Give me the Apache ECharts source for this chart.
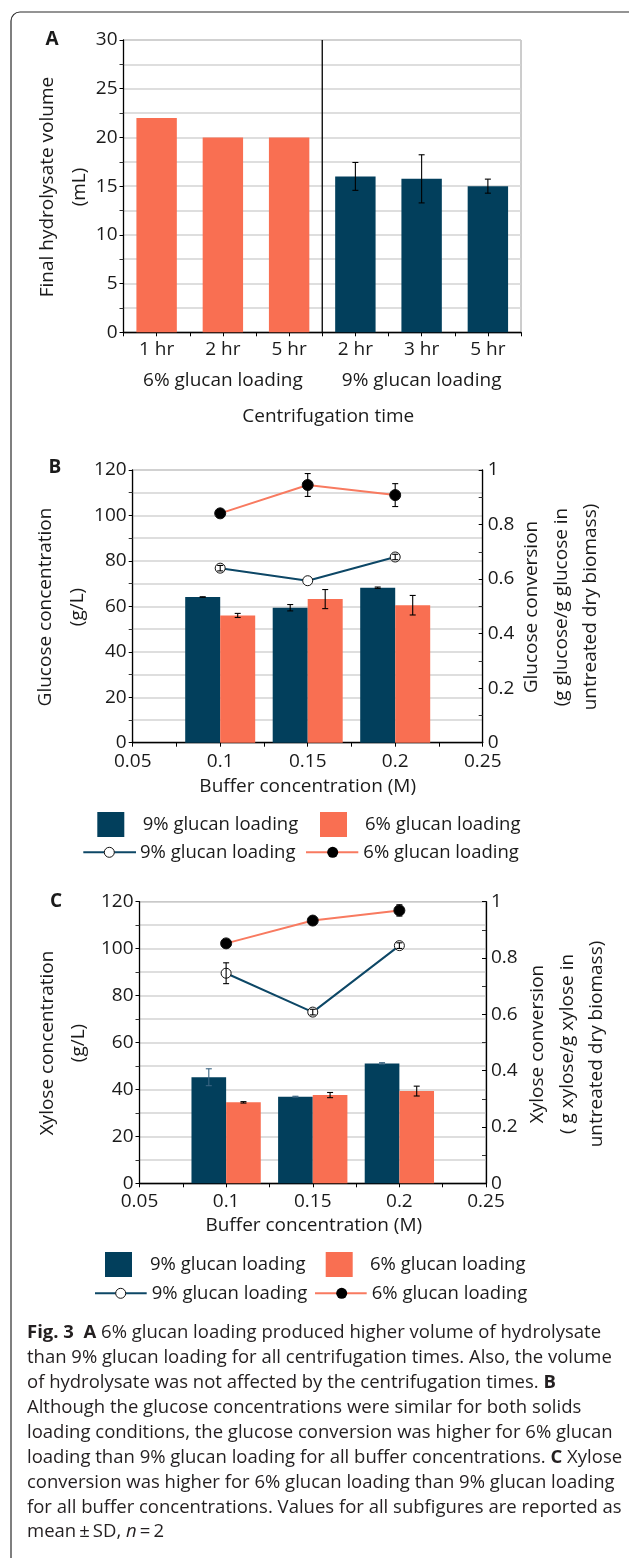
<!DOCTYPE html>
<html><head><meta charset="utf-8">
<script src="https://cdn.jsdelivr.net/npm/echarts@6/dist/echarts.min.js"></script>
<style>html,body{margin:0;padding:0;background:#fff}#c{width:629px;height:1558px}</style>
</head><body><div id="c"></div>
<script>
// ---------- DATA ----------
// Panel A
const centrifugeTimes = ['1 hr', '2 hr', '5 hr', '2 hr', '3 hr', '5 hr'];
const volume6 = [22, 20, 20];
const volume6Sd = [0, 0, 0];
const volume9 = [16, 15.75, 15];
const volume9Sd = [1.43, 2.47, 0.72];
const groupLabelsA = ['6% glucan loading', '9% glucan loading'];
// Panel B / C shared x
const bufferConc = [0.1, 0.15, 0.2];
const bufferTicks = ['0.05', '0.1', '0.15', '0.2', '0.25'];
// Panel B
const glucose9 = [64.1, 59.4, 68.2];
const glucose9Sd = [0.1, 1.4, 0.3];
const glucose6 = [56.0, 63.2, 60.5];
const glucose6Sd = [0.9, 4.2, 4.3];
const glcConv9 = [0.640, 0.594, 0.681];
const glcConv9Sd = [0.01, 0, 0.01];
const glcConv6 = [0.841, 0.945, 0.908];
const glcConv6Sd = [0, 0.042, 0.042];
// Panel C
const xylose9 = [45.2, 36.9, 51.1];
const xylose9Sd = [3.6, 0.2, 0.3];
const xylose6 = [34.5, 37.6, 39.3];
const xylose6Sd = [0.3, 1.1, 2.1];
const xylConv9 = [0.746, 0.608, 0.844];
const xylConv9Sd = [0.037, 0.01, 0.01];
const xylConv6 = [0.852, 0.933, 0.969];
const xylConv6Sd = [0, 0, 0.02];
// Text
const legendLabels = ['9% glucan loading', '6% glucan loading'];
const titlesA = { y: ['Final hydrolysate volume', '(mL)'], x: 'Centrifugation time' };
const titlesB = { y: ['Glucose concentration', '(g/L)'], y2: ['Glucose conversion', '(g glucose/g glucose in', 'untreated dry biomass)'], x: 'Buffer concentration (M)' };
const titlesC = { y: ['Xylose concentration', '(g/L)'], y2: ['Xylose conversion', '( g xylose/g xylose in', 'untreated dry biomass)'], x: 'Buffer concentration (M)' };
const captionLines = [
  '{b|Fig. 3}  {b|A} 6% glucan loading produced higher volume of hydrolysate',
  'than 9% glucan loading for all centrifugation times. Also, the volume',
  'of hydrolysate was not affected by the centrifugation times. {b|B}',
  'Although the glucose concentrations were similar for both solids',
  'loading conditions, the glucose conversion was higher for 6% glucan',
  'loading than 9% glucan loading for all buffer concentrations. {b|C} Xylose',
  'conversion was higher for 6% glucan loading than 9% glucan loading',
  'for all buffer concentrations. Values for all subfigures are reported as',
  'mean\u2009\u00b1\u2009SD, {i|n}\u2009=\u20092'
];

// ---------- STYLE / LAYOUT ----------
const FONT = 'Open Sans';
const TXT = '#1a1a1a';
const DARK = '#023F5C', ORANGE = '#F96F52';
const DARK_LINE = '#0D4766', ORANGE_LINE = '#F87A60';
const GRIDLINE = { color: '#d3d3d3', width: 1.5 };
const GA = { left: 123.5, top: 40, width: 397.5, height: 292.3 };
const GB = { left: 132.7, top: 470, width: 350, height: 272.7 };
const GC = { left: 139.5, top: 901.7, width: 346.5, height: 281.6 };
const X_MIN = 0.05, X_MAX = 0.25, X_INT = 0.05;
const BAR_SPAN = 0.02; // each bar spans 0.02 M on the x axis

const chart = echarts.init(document.getElementById('c'), null, { renderer: 'canvas', width: 629, height: 1558 });

const lbl = (extra) => Object.assign({ fontSize: 19, fontFamily: FONT, color: TXT }, extra || {});
const blackLine = { lineStyle: { color: '#000', width: 1.3 } };

function leftY(gridIndex, max, interval) {
  return {
    gridIndex, type: 'value', min: 0, max, interval, position: 'left',
    axisLine: Object.assign({ show: true }, blackLine),
    axisTick: { show: true, length: 4, lineStyle: { color: '#000' } },
    minorTick: { show: true, splitNumber: 2, length: 4, lineStyle: { color: '#333' } },
    splitLine: { show: true, lineStyle: GRIDLINE },
    minorSplitLine: { show: true, lineStyle: GRIDLINE },
    axisLabel: lbl({ margin: 6 })
  };
}
function rightY(gridIndex) {
  return {
    gridIndex, type: 'value', min: 0, max: 1, interval: 0.2, position: 'right',
    axisLine: Object.assign({ show: true }, blackLine),
    axisTick: { show: true, inside: true, length: 4, lineStyle: { color: '#000' } },
    minorTick: { show: true, splitNumber: 2, length: 4, lineStyle: { color: '#333' } },
    splitLine: { show: false },
    axisLabel: lbl({ margin: 5 })
  };
}
function bufferX(gridIndex) {
  return {
    gridIndex, type: 'value', min: X_MIN, max: X_MAX, interval: X_INT, position: 'bottom',
    axisLine: Object.assign({ show: true, onZero: false }, blackLine),
    axisTick: { show: true, length: 4, lineStyle: { color: '#000' } },
    minorTick: { show: true, splitNumber: 2, length: 4, lineStyle: { color: '#000' } },
    splitLine: { show: false },
    axisLabel: lbl({ margin: 9, formatter: (v) => bufferTicks[Math.round((v - X_MIN) / X_INT)] })
  };
}

function errRender(span, sign, color) {
  return function (params, api) {
    const x = api.value(0), lo = api.value(1), hi = api.value(2);
    if (hi - lo <= 0) return null;
    const off = span ? sign * api.size([span, 0])[0] / 2 : 0;
    const pHi = api.coord([x, hi]), pLo = api.coord([x, lo]);
    const cx = pHi[0] + off, cap = 3;
    const st = { stroke: color, lineWidth: 1.1 };
    return {
      type: 'group', children: [
        { type: 'line', shape: { x1: cx, y1: pHi[1], x2: cx, y2: pLo[1] }, style: st },
        { type: 'line', shape: { x1: cx - cap, y1: pHi[1], x2: cx + cap, y2: pHi[1] }, style: st },
        { type: 'line', shape: { x1: cx - cap, y1: pLo[1], x2: cx + cap, y2: pLo[1] }, style: st }
      ]
    };
  };
}
function errSeries(xi, yi, xs, vals, sds, span, sign, color) {
  return {
    type: 'custom', xAxisIndex: xi, yAxisIndex: yi, z: 10, silent: true,
    data: vals.map((v, i) => [xs[i], v - sds[i], v + sds[i]]),
    encode: { x: 0, y: [1, 2] },
    renderItem: errRender(span, sign, color)
  };
}
function barSeries(xi, yi, vals, color, width) {
  return {
    type: 'bar', xAxisIndex: xi, yAxisIndex: yi, barWidth: width, barGap: '0%',
    data: bufferConc.map((x, i) => [x, vals[i]]), itemStyle: { color }, silent: true
  };
}
function lineSeries(xi, yi, vals, lineColor, fill, size) {
  return {
    type: 'line', xAxisIndex: xi, yAxisIndex: yi, z: 5, silent: true,
    data: bufferConc.map((x, i) => [x, vals[i]]),
    symbol: 'circle', symbolSize: size, showSymbol: true,
    lineStyle: { color: lineColor, width: 2 },
    itemStyle: { color: fill, borderColor: '#111', borderWidth: 1 }
  };
}

const bwB = BAR_SPAN * GB.width / (X_MAX - X_MIN);
const bwC = BAR_SPAN * GC.width / (X_MAX - X_MIN);
const idxA = centrifugeTimes.map((_, i) => i);
const barDataA = volume6.map(v => ({ value: v, itemStyle: { color: ORANGE } }))
  .concat(volume9.map(v => ({ value: v, itemStyle: { color: DARK } })));
const errValsA = volume6.concat(volume9), errSdA = volume6Sd.concat(volume9Sd);

const gridBase = { containLabel: false, outerBoundsMode: 'none', show: true, borderColor: '#9a9a9a', borderWidth: 1, backgroundColor: 'transparent' };

chart.setOption({
  animation: false,
  grid: [Object.assign({}, gridBase, GA), Object.assign({}, gridBase, GB), Object.assign({}, gridBase, GC)],
  xAxis: [
    {
      gridIndex: 0, type: 'category', data: centrifugeTimes, position: 'bottom',
      axisLine: Object.assign({ show: true }, blackLine),
      axisTick: { show: true, length: 4, lineStyle: { color: '#000' } },
      axisLabel: lbl({ margin: 8, interval: 0 })
    },
    {
      gridIndex: 0, type: 'category', data: centrifugeTimes, position: 'bottom',
      axisLine: { show: false },
      axisTick: { show: true, alignWithLabel: true, length: 4, lineStyle: { color: '#000' } },
      axisLabel: { show: false }
    },
    bufferX(1),
    bufferX(2)
  ],
  yAxis: [
    leftY(0, 30, 5),
    leftY(1, 120, 20),
    rightY(1),
    leftY(2, 120, 20),
    rightY(2)
  ],
  series: [
    // Panel A
    { type: 'bar', xAxisIndex: 0, yAxisIndex: 0, data: barDataA, barCategoryGap: '39%', silent: true },
    errSeries(0, 0, idxA, errValsA, errSdA, 0, 0, '#000'),
    // Panel B
    barSeries(2, 1, glucose9, DARK, bwB),
    barSeries(2, 1, glucose6, ORANGE, bwB),
    errSeries(2, 1, bufferConc, glucose9, glucose9Sd, BAR_SPAN, -1, '#000'),
    errSeries(2, 1, bufferConc, glucose6, glucose6Sd, BAR_SPAN, 1, '#000'),
    lineSeries(2, 2, glcConv9, DARK_LINE, '#fff', 10),
    lineSeries(2, 2, glcConv6, ORANGE_LINE, '#000', 11),
    errSeries(2, 2, bufferConc, glcConv9, glcConv9Sd, 0, 0, '#000'),
    errSeries(2, 2, bufferConc, glcConv6, glcConv6Sd, 0, 0, '#000'),
    // Panel C
    barSeries(3, 3, xylose9, DARK, bwC),
    barSeries(3, 3, xylose6, ORANGE, bwC),
    errSeries(3, 3, bufferConc, xylose9, xylose9Sd, BAR_SPAN, -1, '#3a6482'),
    errSeries(3, 3, bufferConc, xylose6, xylose6Sd, BAR_SPAN, 1, '#000'),
    lineSeries(3, 4, xylConv9, DARK_LINE, '#fff', 10),
    lineSeries(3, 4, xylConv6, ORANGE_LINE, '#000', 11),
    errSeries(3, 4, bufferConc, xylConv9, xylConv9Sd, 0, 0, '#000'),
    errSeries(3, 4, bufferConc, xylConv6, xylConv6Sd, 0, 0, '#000')
  ]
});

// ---------- GRAPHICS (titles, legends, caption) ----------
const g = [];
function txt(x, y, text, opts) {
  g.push(Object.assign({
    type: 'text', x, y, silent: true, z: 20,
    style: Object.assign({ text, fontSize: 19, fontFamily: FONT, fill: TXT, align: 'center', verticalAlign: 'middle' }, (opts && opts.style) || {})
  }, opts && opts.rotation !== undefined ? { rotation: opts.rotation } : {}));
}
const UP = Math.PI / 2; // text reading bottom-to-top
// frame
g.push({ type: 'rect', silent: true, z: 0, shape: { x: 11, y: 12, width: 900, height: 1700, r: [9, 0, 0, 0] }, style: { fill: 'none', stroke: '#2b2b2b', lineWidth: 1.2 } });
// panel letters
txt(52, 40, 'A', { style: { fontWeight: 'bold' } });
txt(55, 468, 'B', { style: { fontWeight: 'bold' } });
txt(56, 902, 'C', { style: { fontWeight: 'bold' } });

// Panel A extras
const px = (i) => chart.convertToPixel({ xAxisIndex: 0 }, i);
const divX = (px(volume6.length - 1) + px(volume6.length)) / 2;
g.push({ type: 'line', silent: true, z: 15, shape: { x1: divX, y1: GA.top, x2: divX, y2: GA.top + GA.height }, style: { stroke: '#000', lineWidth: 1.3 } });
txt(px(1), 381, groupLabelsA[0]);
txt(px(4), 381, groupLabelsA[1]);
txt(GA.left + GA.width / 2 + 6, 417, titlesA.x);
txt(48, 187, titlesA.y[0], { rotation: UP });
txt(80, 187, titlesA.y[1], { rotation: UP });

// Panel B titles
txt(46, 607, titlesB.y[0], { rotation: UP });
txt(78, 607, titlesB.y[1], { rotation: UP });
txt(532, 607, titlesB.y2[0], { rotation: UP });
txt(562, 607, titlesB.y2[1], { rotation: UP });
txt(591, 607, titlesB.y2[2], { rotation: UP });
txt(GB.left + GB.width / 2, 787, titlesB.x);
// Panel C titles
txt(48, 1043, titlesC.y[0], { rotation: UP });
txt(79, 1043, titlesC.y[1], { rotation: UP });
txt(538, 1044, titlesC.y2[0], { rotation: UP });
txt(568, 1044, titlesC.y2[1], { rotation: UP });
txt(597, 1044, titlesC.y2[2], { rotation: UP });
txt(GC.left + GC.width / 2 + 1, 1226, titlesC.x);

// Legends
function legend(L) {
  const [y1, y2] = L.rowY;
  g.push({ type: 'rect', silent: true, z: 20, shape: { x: L.rectX[0], y: y1 - 12.5, width: 27, height: 25 }, style: { fill: DARK } });
  g.push({ type: 'rect', silent: true, z: 20, shape: { x: L.rectX[1], y: y1 - 12.5, width: 27, height: 25 }, style: { fill: ORANGE } });
  txt(L.textX1[0], y1, legendLabels[0], { style: { align: 'left', fontSize: 18.5 } });
  txt(L.textX1[1], y1, legendLabels[1], { style: { align: 'left', fontSize: 18.5 } });
  g.push({ type: 'line', silent: true, z: 20, shape: { x1: L.lineX[0][0], y1: y2, x2: L.lineX[0][1], y2: y2 }, style: { stroke: DARK_LINE, lineWidth: 2 } });
  g.push({ type: 'circle', silent: true, z: 21, shape: { cx: L.circleX[0], cy: y2, r: 5 }, style: { fill: '#fff', stroke: '#111', lineWidth: 1 } });
  g.push({ type: 'line', silent: true, z: 20, shape: { x1: L.lineX[1][0], y1: y2, x2: L.lineX[1][1], y2: y2 }, style: { stroke: ORANGE_LINE, lineWidth: 2 } });
  g.push({ type: 'circle', silent: true, z: 21, shape: { cx: L.circleX[1], cy: y2, r: 5.5 }, style: { fill: '#000' } });
  txt(L.textX2[0], y2, legendLabels[0], { style: { align: 'left', fontSize: 18.5 } });
  txt(L.textX2[1], y2, legendLabels[1], { style: { align: 'left', fontSize: 18.5 } });
}
legend({ rectX: [97.3, 320], rowY: [824.5, 852.3], textX1: [142.7, 365], lineX: [[83.3, 136], [306, 358.3]], circleX: [109.3, 332.7], textX2: [140, 363.3] });
legend({ rectX: [105, 325.7], rowY: [1264.5, 1293.3], textX1: [150, 370], lineX: [[95, 146.7], [315, 366.7]], circleX: [120.7, 341.7], textX2: [151.7, 371.7] });

// Caption
const CAP_SIZE = 18.5;
captionLines.forEach((line, i) => {
  g.push({
    type: 'text', silent: true, z: 20, x: 27, y: 1333 + i * 24.9,
    style: {
      text: line, fontSize: CAP_SIZE, fontFamily: FONT, fill: '#231f20', align: 'left', verticalAlign: 'middle',
      rich: {
        b: { fontSize: CAP_SIZE, fontFamily: FONT, fontWeight: 'bold', fill: '#231f20' },
        i: { fontSize: CAP_SIZE, fontFamily: FONT, fontStyle: 'italic', fill: '#231f20' }
      }
    }
  });
});

chart.setOption({ graphic: { elements: g } });
</script>
</body></html>
